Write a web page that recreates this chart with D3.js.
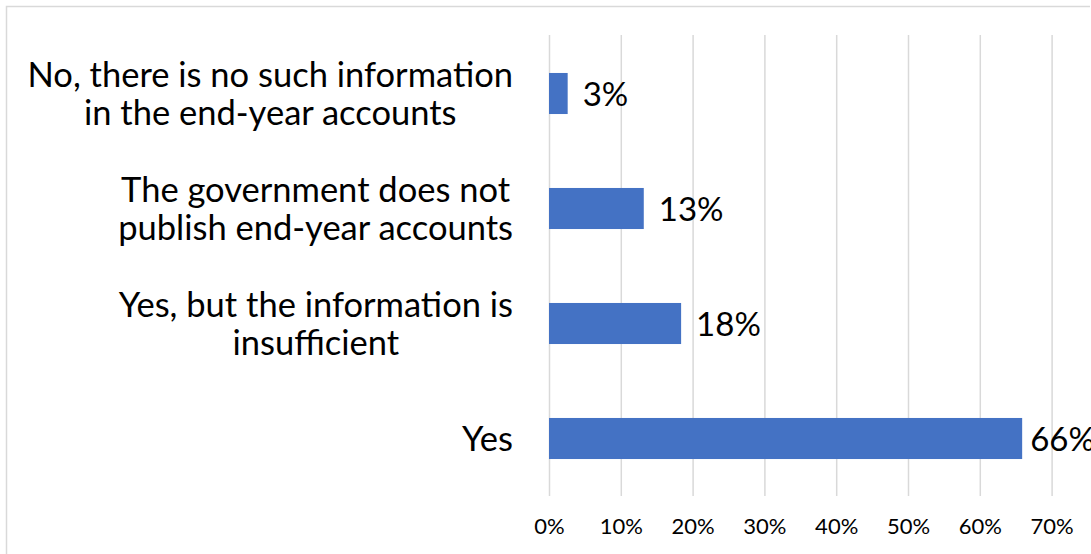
<!DOCTYPE html>
<html>
<head>
<meta charset="utf-8">
<script src="https://cdn.jsdelivr.net/npm/d3@7"></script>
<style>
  html, body { margin: 0; padding: 0; background: #fff; }
  svg { display: block; font-family: Lato, "Open Sans", sans-serif; }
</style>
</head>
<body>
<svg id="chart" width="1091" height="554"></svg>
<script>
// Survey answers, top to bottom, and the share of respondents for each
const categories = [
  "No, there is no such information\nin the end-year accounts",
  "The government does not\npublish end-year accounts",
  "Yes, but the information is\ninsufficient",
  "Yes"
];
const shares = [0.026, 0.132, 0.184, 0.659];
const tickValues = [0, 0.1, 0.2, 0.3, 0.4, 0.5, 0.6, 0.7];

const W = 1091, H = 554;
const plot = { left: 549, right: 1051.6, top: 35, bottom: 496 };
const barColor = "#4472C4";
const gridColor = "#d9d9d9";

const svg = d3.select("#chart");

// outer frame (only top and left edges fall inside the canvas)
svg.append("path")
  .attr("d", `M6.5,${H} V6.5 H1090`)
  .attr("fill", "none")
  .attr("stroke", gridColor)
  .attr("stroke-width", 1.5);

const x = d3.scaleLinear().domain([0, 0.7]).range([plot.left, plot.right]);
const y = d3.scaleBand()
  .domain(categories)
  .range([plot.top + 1, plot.bottom])
  .paddingInner(0.643)
  .paddingOuter(0.3215);

// vertical gridlines
svg.append("g")
  .attr("transform", `translate(0,${plot.bottom})`)
  .call(d3.axisBottom(x).tickValues(tickValues).tickSize(-(plot.bottom - plot.top)).tickFormat(""))
  .call(g => g.select(".domain").remove())
  .call(g => g.selectAll(".tick line").attr("stroke", gridColor).attr("stroke-width", 1.5));

// tick labels
svg.append("g")
  .attr("transform", `translate(0,${plot.bottom})`)
  .call(d3.axisBottom(x).tickValues(tickValues).tickSize(0).tickPadding(22).tickFormat(d3.format(".0%")))
  .call(g => g.select(".domain").remove())
  .call(g => g.selectAll(".tick text")
    .attr("font-size", 22)
    .attr("font-family", "Lato, 'Open Sans', sans-serif")
    .attr("fill", "#000"));

// bars
svg.append("g").selectAll("rect")
  .data(categories)
  .join("rect")
  .attr("x", x(0))
  .attr("y", d => y(d))
  .attr("width", (d, i) => x(shares[i]) - x(0))
  .attr("height", y.bandwidth())
  .attr("fill", barColor);

// value labels
svg.append("g").selectAll("text")
  .data(categories)
  .join("text")
  .attr("x", (d, i) => x(shares[i]) + (shares[i] > 0.6 ? 8 : 15))
  .attr("y", d => y(d) + y.bandwidth() / 2 + 12)
  .attr("font-size", 33)
  .attr("fill", "#000")
  .text((d, i) => d3.format(".0%")(shares[i]));

// category labels: lines centred within a block that is right-aligned to the axis
const labelRight = 513;
const lineGap = 38;
const capH = 24;
categories.forEach(cat => {
  const lines = cat.split("\n");
  const g = svg.append("g");
  const texts = lines.map(l => g.append("text")
    .attr("font-size", 34.5)
    .attr("fill", "#000")
    .attr("text-anchor", "middle")
    .text(l));
  const maxW = d3.max(texts, t => t.node().getComputedTextLength());
  const cx = labelRight - maxW / 2;
  const mid = y(cat) + y.bandwidth() / 2;
  const blockH = capH + lineGap * (lines.length - 1);
  const firstBase = mid - blockH / 2 + capH;
  texts.forEach((t, i) => t.attr("x", cx).attr("y", firstBase + i * lineGap));
});
</script>
</body>
</html>
